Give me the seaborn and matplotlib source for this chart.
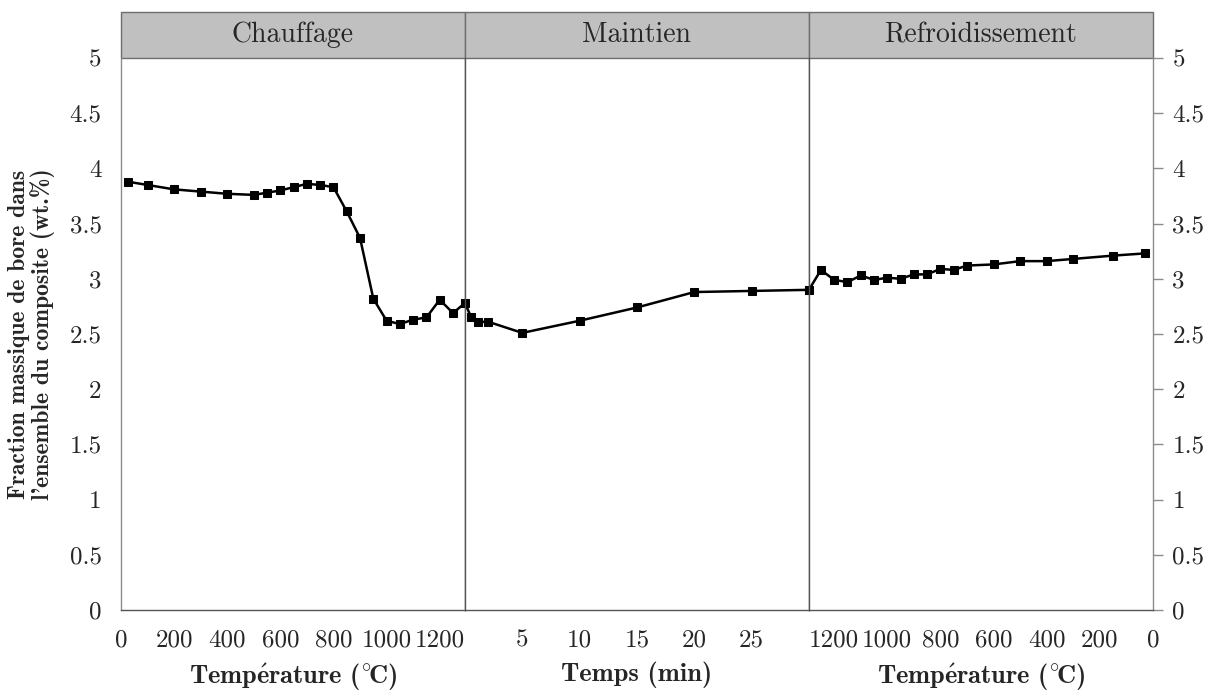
import matplotlib
matplotlib.use("Agg")
import matplotlib.pyplot as plt
from matplotlib.patches import Rectangle
import seaborn as sns

# Chauffage: temperature (°C) vs boron fraction (wt.%)
heat_temp = [25, 100, 200, 300, 400, 500, 550, 600, 650, 700, 750, 800,
             850, 900, 950, 1000, 1050, 1100, 1150, 1200, 1250, 1295]
heat_val = [3.88, 3.85, 3.81, 3.79, 3.77, 3.76, 3.78, 3.80, 3.83, 3.86, 3.85, 3.83,
            3.61, 3.37, 2.82, 2.62, 2.59, 2.63, 2.65, 2.81, 2.69, 2.78]

# Maintien: time (min) vs boron fraction
hold_time = [0, 0.55, 1.1, 2.05, 5, 10, 15, 20, 25, 30]
hold_val = [2.78, 2.65, 2.61, 2.61, 2.51, 2.62, 2.74, 2.88, 2.89, 2.90]

# Refroidissement: temperature (°C) vs boron fraction
cool_temp = [1295, 1250, 1200, 1150, 1100, 1050, 1000, 950, 900, 850, 800, 750,
             700, 600, 500, 400, 300, 150, 30]
cool_val = [2.90, 3.08, 2.99, 2.97, 3.03, 2.99, 3.01, 3.00, 3.04, 3.04, 3.09, 3.08,
            3.12, 3.13, 3.16, 3.16, 3.18, 3.21, 3.23]

panel_titles = ["Chauffage", "Maintien", "Refroidissement"]
x_labels = [r"Temp$\mathbf{\acute{e}}$rature ($\mathbf{^{\circ}}\!$C)",
            "Temps (min)",
            r"Temp$\mathbf{\acute{e}}$rature ($\mathbf{^{\circ}}\!$C)"]
y_label = "Fraction massique de bore dans\nl'ensemble du composite (wt.%)"
y_ticks = [0, 0.5, 1, 1.5, 2, 2.5, 3, 3.5, 4, 4.5, 5]
y_ticklabels = ["0", "0.5", "1", "1.5", "2", "2.5", "3", "3.5", "4", "4.5", "5"]

sns.set_theme(style="white")
plt.rcParams["font.family"] = ["cmr10", "DejaVu Serif"]
plt.rcParams["mathtext.fontset"] = "cm"
plt.rcParams["axes.formatter.use_mathtext"] = True

fig, axes = plt.subplots(1, 3, figsize=(12.18, 6.93), dpi=100, sharey=True)
fig.subplots_adjust(left=0.0993, right=0.9466, bottom=0.1198, top=0.9163, wspace=0)

series = [(heat_temp, heat_val), (hold_time, hold_val), (cool_temp, cool_val)]
spine_gray = "#8c8c8c"
for ax, (xs, ys) in zip(axes, series):
    sns.lineplot(x=xs, y=ys, ax=ax, sort=False, color="black", linewidth=1.8,
                 marker="s", markersize=6, markeredgecolor="black", clip_on=False)
    ax.set_ylim(0, 5)
    for s in ax.spines.values():
        s.set_color(spine_gray)
        s.set_linewidth(1.0)
    ax.spines["top"].set_visible(False)
    ax.spines["bottom"].set_color("#555555")
    ax.tick_params(axis="both", direction="out", length=7, width=1,
                   color=spine_gray, labelsize=18, pad=7)

# x axes
axes[0].set_xlim(0, 1295)
axes[0].set_xticks(range(0, 1201, 200))
axes[0].set_xticklabels([str(v) for v in range(0, 1201, 200)])
axes[1].set_xlim(0, 30)
axes[1].set_xticks([5, 10, 15, 20, 25])
axes[1].set_xticklabels(["5", "10", "15", "20", "25"])
axes[2].set_xlim(1295, 0)
axes[2].set_xticks(range(1200, -1, -200))
axes[2].set_xticklabels([str(v) for v in range(1200, -1, -200)])

for ax, lab in zip(axes, x_labels):
    ax.set_xlabel(lab, fontsize=19, family="cmb10", labelpad=7)

# y axes
axes[0].set_yticks(y_ticks)
axes[0].set_yticklabels(y_ticklabels)
axes[0].set_ylabel(y_label, fontsize=17, family="cmb10", labelpad=10, linespacing=1.05)
axes[1].tick_params(axis="y", left=False, labelleft=False)
axes[2].yaxis.tick_right()
axes[2].tick_params(axis="y", right=True, labelright=True, left=False, labelleft=False)

# inner separators darker
axes[0].spines["right"].set_color("#555555")
axes[1].spines["left"].set_color("#555555")
axes[1].spines["right"].set_color("#555555")
axes[2].spines["left"].set_color("#555555")

# header strips
strip_h = 46 / 552
for ax, title in zip(axes, panel_titles):
    ax.add_patch(Rectangle((0, 1), 1, strip_h, transform=ax.transAxes,
                           facecolor="#c0c0c0", edgecolor="#6e6e6e", linewidth=1.0,
                           clip_on=False))
    ax.text(0.5, 1 + strip_h / 2, title, transform=ax.transAxes,
            ha="center", va="center", fontsize=20)

fig.savefig("out.png", dpi=100)
